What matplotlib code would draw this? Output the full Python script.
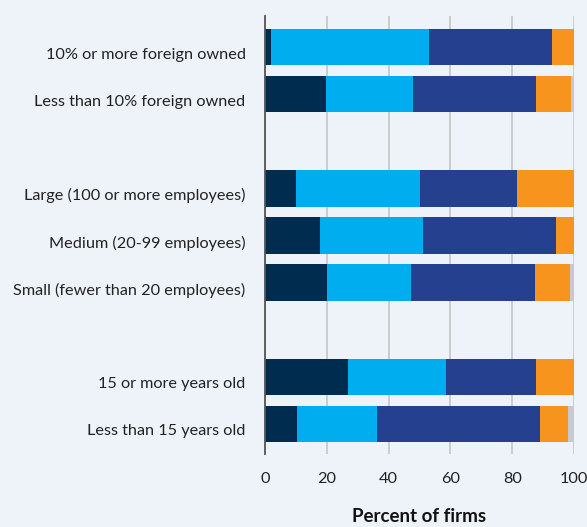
import matplotlib
matplotlib.use("Agg")
import matplotlib.pyplot as plt
import matplotlib.transforms as mtransforms
import numpy as np

categories = [
    "10% or more foreign owned",
    "Less than 10% foreign owned",
    "Large (100 or more employees)",
    "Medium (20-99 employees)",
    "Small (fewer than 20 employees)",
    "15 or more years old",
    "Less than 15 years old",
]
positions = [0, 1, 3, 4, 5, 7, 8]

seg1 = [2.0, 19.7, 10.0, 17.8, 20.1, 26.9, 10.4]
seg2 = [51.1, 28.2, 40.2, 33.3, 27.1, 31.7, 25.8]
seg3 = [39.8, 39.8, 31.4, 43.1, 40.2, 29.1, 52.8]
seg4 = [7.1, 11.3, 18.4, 5.8, 11.3, 12.3, 9.1]
seg5 = [0.0, 1.0, 0.0, 0.0, 1.3, 0.0, 1.9]

colors = ["#002D4F", "#00AEEF", "#24408E", "#F7941D", "#C8C9CE"]
bg = "#EEF3FA"

plt.rcParams['font.family'] = ['Lato', 'DejaVu Sans']

fig = plt.figure(figsize=(5.87, 5.27), dpi=100, facecolor=bg)
ax = fig.add_axes([265/587, 1 - 454/527, (574-265)/587, (454-16)/527])
ax.set_facecolor(bg)

left = np.zeros(len(categories))
for seg, c in zip([seg1, seg2, seg3, seg4, seg5], colors):
    ax.barh(positions, seg, left=left, color=c, height=0.77, zorder=3)
    left += np.array(seg)

ax.set_xlim(0, 100)
ax.set_ylim(8.64, -0.66)
ax.set_yticks(positions)
ax.set_yticklabels(categories, fontsize=11.7, color="#222222")
ax.set_xticks([0, 20, 40, 60, 80, 100])
ax.set_xticklabels(["0", "20", "40", "60", "80", "100"], fontsize=11.7, color="#222222")
ax.tick_params(axis='y', length=0, pad=14)
ax.tick_params(axis='x', length=0, pad=13)
offset = mtransforms.ScaledTranslation(0, -6/100, fig.dpi_scale_trans)
for lbl in ax.get_yticklabels():
    lbl.set_transform(lbl.get_transform() + offset)
ax.xaxis.grid(True, color="#C8C8C8", linewidth=1.3, zorder=0)
for s in ["top", "right", "bottom"]:
    ax.spines[s].set_visible(False)
ax.spines["left"].set_color("#555555")
ax.spines["left"].set_linewidth(1.3)
ax.spines["left"].set_zorder(4)
ax.set_xlabel("Percent of firms", fontsize=13.5, fontweight="bold", labelpad=16, color="#111111")

fig.savefig("out.png", dpi=100, facecolor=bg)
